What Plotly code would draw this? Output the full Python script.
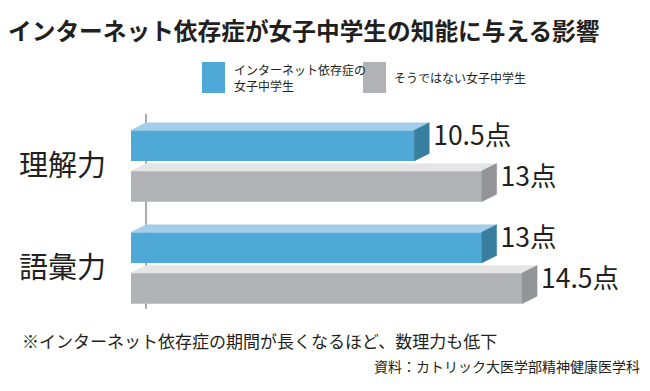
import plotly.graph_objects as go

# ---- data ----
categories = ["理解力", "語彙力"]
series_names = ["インターネット依存症の<br>女子中学生", "そうではない女子中学生"]
addicted = [10.5, 13]
not_addicted = [13, 14.5]
unit = "点"
title_text = "インターネット依存症が女子中学生の知能に与える影響"
note_text = "※インターネット依存症の期間が長くなるほど、数理力も低下"
source_text = "資料：カトリック大医学部精神健康医学科"

# ---- style ----
FONT = "Noto Sans CJK JP"
TXT = "#231F20"
faces = [
    dict(front="#4EA9D6", top="#A4CFEA", side="#377E9F"),
    dict(front="#B1B2B5", top="#E5E5E6", side="#929497"),
]
OX, OY = 8, 8          # page margin offset of the browser body
W, H = 650 - 2 * OX, 391 - 2 * OY
x_px_per_unit = 26.97
x0_px = 131 - OX
y_px_per_unit = 102
y0_px = 166 - OY
xr = [-x0_px / x_px_per_unit, (W - x0_px) / x_px_per_unit]
yr = [(H - y0_px) / y_px_per_unit, -y0_px / y_px_per_unit]
dx = 15 / x_px_per_unit
dy = 7.5 / y_px_per_unit
bar_w = 0.3
offsets = [-0.2, 0.2]

fig = go.Figure()
series = [addicted, not_addicted]
for s, vals in enumerate(series):
    ys = [i + offsets[s] for i in range(len(categories))]
    fig.add_trace(go.Bar(
        x=vals, y=ys, orientation="h", width=bar_w,
        marker=dict(color=faces[s]["front"], line=dict(width=0)),
        showlegend=False, hoverinfo="skip",
    ))
    tx, ty = [], []
    sx, sy = [], []
    for v, yc in zip(vals, ys):
        yt = yc - bar_w / 2
        yb = yc + bar_w / 2
        tx += [0, v, v + dx, dx, 0, None]
        ty += [yt, yt, yt - dy, yt - dy, yt, None]
        sx += [v, v + dx, v + dx, v, v, None]
        sy += [yt, yt - dy, yb - dy, yb, yt, None]
    fig.add_trace(go.Scatter(x=tx, y=ty, mode="lines", fill="toself",
                             fillcolor=faces[s]["top"], line=dict(width=0.5, color=faces[s]["top"]),
                             showlegend=False, hoverinfo="skip"))
    fig.add_trace(go.Scatter(x=sx, y=sy, mode="lines", fill="toself",
                             fillcolor=faces[s]["side"], line=dict(width=0.5, color=faces[s]["side"]),
                             showlegend=False, hoverinfo="skip"))
    fig.add_trace(go.Scatter(
        x=[v + dx + 4 / x_px_per_unit for v in vals], y=[yc - dy for yc in ys], mode="text",
        text=[f"{v:g}{unit}" for v in vals], textposition="middle right",
        textfont=dict(family=FONT, size=26.5, color=TXT),
        showlegend=False, hoverinfo="skip",
    ))

for i, c in enumerate(categories):
    fig.add_annotation(x=-23 / x_px_per_unit, y=i - 0.03, text=c, xref="x", yref="y",
                       xanchor="right", yanchor="middle", showarrow=False,
                       font=dict(family=FONT, size=29, color=TXT))

fig.add_shape(type="line", xref="x", yref="y", x0=dx, x1=dx, y0=-0.51, y1=1.40,
              line=dict(color="#8E8E8E", width=1.5), layer="below")


def px(xp):
    return (xp - OX) / W


def py(yp):
    return 1 - (yp - OY) / H


fig.add_annotation(xref="paper", yref="paper", x=px(6), y=py(30), text=title_text,
                   xanchor="left", yanchor="middle", showarrow=False,
                   font=dict(family=FONT, size=23.7, color=TXT, weight="bold"))

leg = [(202, 232), (363, 392)]
for s, (sqx, tx) in enumerate(leg):
    fig.add_shape(type="rect", xref="paper", yref="paper",
                  x0=px(sqx), x1=px(sqx + 23), y0=py(93), y1=py(62),
                  fillcolor=faces[s]["front"], line=dict(width=0))
    fig.add_annotation(xref="paper", yref="paper", x=px(tx), y=py(78), text=series_names[s],
                       xanchor="left", yanchor="middle", align="left", showarrow=False,
                       font=dict(family=FONT, size=12, color=TXT))

fig.add_annotation(xref="paper", yref="paper", x=px(20), y=py(340), text=note_text,
                   xanchor="left", yanchor="middle", showarrow=False,
                   font=dict(family=FONT, size=17, color=TXT))
fig.add_annotation(xref="paper", yref="paper", x=px(642), y=py(366), text=source_text,
                   xanchor="right", yanchor="middle", showarrow=False,
                   font=dict(family=FONT, size=14, color=TXT))

fig.update_layout(
    width=W, height=H, margin=dict(l=0, r=0, t=0, b=0),
    paper_bgcolor="white", plot_bgcolor="white", barmode="overlay",
    xaxis=dict(range=xr, visible=False, fixedrange=True),
    yaxis=dict(range=yr, visible=False, fixedrange=True),
    showlegend=False,
)
fig.write_html("out.html")
